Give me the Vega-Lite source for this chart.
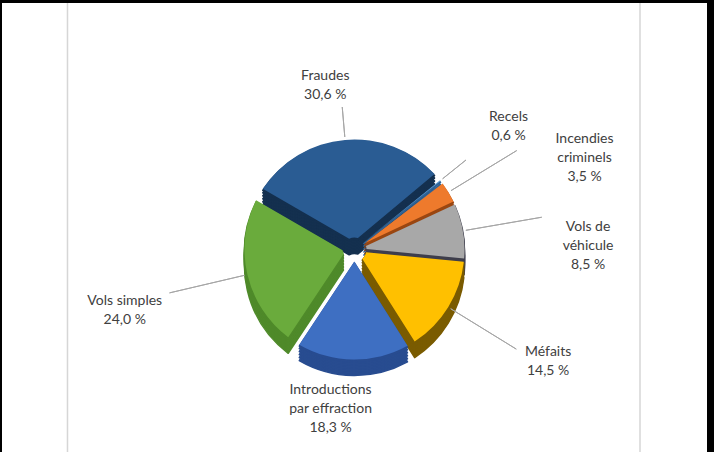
{
  "$schema": "https://vega.github.io/schema/vega-lite/v6.json",
  "width": 705,
  "height": 449,
  "autosize": "none",
  "padding": {"left": 2, "top": 3, "right": 7, "bottom": 0},
  "background": "#000000",
  "view": {"fill": "#ffffff", "stroke": null},
  "config": {
    "view": {"stroke": null, "fill": "#ffffff"},
    "locale": {"number": {"decimal": ",", "thousands": " ", "grouping": [3], "currency": ["", " €"], "percent": " %"}},
    "text": {"font": "Lato", "fontSize": 14, "color": "#404040", "lineHeight": 19, "lineBreak": "\n", "align": "center"},
    "arc": {"strokeJoin": "round"}
  },
  "datasets": {
    "crimes": [
      {"ordre": 1, "nom": "Fraudes", "part": 0.306},
      {"ordre": 2, "nom": "Recels", "part": 0.006},
      {"ordre": 3, "nom": "Incendies\ncriminels", "part": 0.035},
      {"ordre": 4, "nom": "Vols de\nvéhicule", "part": 0.085},
      {"ordre": 5, "nom": "Méfaits", "part": 0.145},
      {"ordre": 6, "nom": "Introductions\npar effraction", "part": 0.183},
      {"ordre": 7, "nom": "Vols simples", "part": 0.240}
    ]
  },
  "layer": [
    {
      "data": {"values": [{"bord": "gauche"}, {"bord": "droite"}]},
      "mark": {"type": "rule", "color": "#d6d6d6", "strokeWidth": 1.5},
      "encoding": {
        "x": {"field": "bord", "type": "nominal", "sort": ["gauche", "droite"], "scale": {"type": "point", "padding": 0.1157, "align": 0.4943}, "axis": null}
      }
    },
    {
      "data": {"name": "crimes"},
      "encoding": {
        "theta": {"field": "part", "type": "quantitative", "stack": true, "scale": {"range": [-1.0472, 5.236]}},
        "order": {"field": "ordre", "type": "quantitative"}
      },
      "layer": [
        {"mark": {"type": "arc", "radius": 110, "radius2": 12, "padAngle": 0.12, "yOffset": 38, "strokeWidth": 1.5},
         "encoding": {"fill": {"field": "ordre", "type": "nominal", "scale": {"domain": [1,2,3,4,5,6,7], "range": ["#14304f", "#2f6396", "#9a4712", "#3e3e4c", "#7a5b00", "#284c90", "#4f8a2a"]}, "legend": null},
                      "stroke": {"field": "ordre", "type": "nominal", "scale": {"domain": [1,2,3,4,5,6,7], "range": ["#14304f", "#2f6396", "#9a4712", "#3e3e4c", "#7a5b00", "#284c90", "#4f8a2a"]}, "legend": null},
                      "opacity": {"condition": {"test": "datum.ordre == 1 || datum.ordre >= 6", "value": 1}, "value": 0}}},
        {"mark": {"type": "arc", "radius": 110, "radius2": 12, "padAngle": 0.03, "yOffset": 38, "strokeWidth": 1.5},
         "encoding": {"fill": {"field": "ordre", "type": "nominal", "legend": null},
                      "stroke": {"field": "ordre", "type": "nominal", "legend": null},
                      "opacity": {"condition": {"test": "datum.ordre > 1 && datum.ordre < 6", "value": 1}, "value": 0}}},
        {"mark": {"type": "arc", "radius": 110, "radius2": 12, "padAngle": 0.12, "yOffset": 35, "strokeWidth": 1.5},
         "encoding": {"fill": {"field": "ordre", "type": "nominal", "legend": null},
                      "stroke": {"field": "ordre", "type": "nominal", "legend": null},
                      "opacity": {"condition": {"test": "datum.ordre == 1 || datum.ordre >= 6", "value": 1}, "value": 0}}},
        {"mark": {"type": "arc", "radius": 110, "radius2": 12, "padAngle": 0.03, "yOffset": 35, "strokeWidth": 1.5},
         "encoding": {"fill": {"field": "ordre", "type": "nominal", "legend": null},
                      "stroke": {"field": "ordre", "type": "nominal", "legend": null},
                      "opacity": {"condition": {"test": "datum.ordre > 1 && datum.ordre < 6", "value": 1}, "value": 0}}},
        {"mark": {"type": "arc", "radius": 110, "radius2": 12, "padAngle": 0.12, "yOffset": 32, "strokeWidth": 1.5},
         "encoding": {"fill": {"field": "ordre", "type": "nominal", "legend": null},
                      "stroke": {"field": "ordre", "type": "nominal", "legend": null},
                      "opacity": {"condition": {"test": "datum.ordre == 1 || datum.ordre >= 6", "value": 1}, "value": 0}}},
        {"mark": {"type": "arc", "radius": 110, "radius2": 12, "padAngle": 0.03, "yOffset": 32, "strokeWidth": 1.5},
         "encoding": {"fill": {"field": "ordre", "type": "nominal", "legend": null},
                      "stroke": {"field": "ordre", "type": "nominal", "legend": null},
                      "opacity": {"condition": {"test": "datum.ordre > 1 && datum.ordre < 6", "value": 1}, "value": 0}}},
        {"mark": {"type": "arc", "radius": 110, "radius2": 12, "padAngle": 0.12, "yOffset": 29, "strokeWidth": 1.5},
         "encoding": {"fill": {"field": "ordre", "type": "nominal", "legend": null},
                      "stroke": {"field": "ordre", "type": "nominal", "legend": null},
                      "opacity": {"condition": {"test": "datum.ordre == 1 || datum.ordre >= 6", "value": 1}, "value": 0}}},
        {"mark": {"type": "arc", "radius": 110, "radius2": 12, "padAngle": 0.03, "yOffset": 29, "strokeWidth": 1.5},
         "encoding": {"fill": {"field": "ordre", "type": "nominal", "legend": null},
                      "stroke": {"field": "ordre", "type": "nominal", "legend": null},
                      "opacity": {"condition": {"test": "datum.ordre > 1 && datum.ordre < 6", "value": 1}, "value": 0}}},
        {"mark": {"type": "arc", "radius": 110, "radius2": 12, "padAngle": 0.12, "yOffset": 26, "strokeWidth": 1.5},
         "encoding": {"fill": {"field": "ordre", "type": "nominal", "legend": null},
                      "stroke": {"field": "ordre", "type": "nominal", "legend": null},
                      "opacity": {"condition": {"test": "datum.ordre == 1 || datum.ordre >= 6", "value": 1}, "value": 0}}},
        {"mark": {"type": "arc", "radius": 110, "radius2": 12, "padAngle": 0.03, "yOffset": 26, "strokeWidth": 1.5},
         "encoding": {"fill": {"field": "ordre", "type": "nominal", "legend": null},
                      "stroke": {"field": "ordre", "type": "nominal", "legend": null},
                      "opacity": {"condition": {"test": "datum.ordre > 1 && datum.ordre < 6", "value": 1}, "value": 0}}},
        {"mark": {"type": "arc", "radius": 110, "radius2": 12, "padAngle": 0.12, "yOffset": 23.5, "strokeWidth": 1.5},
         "encoding": {"fill": {"field": "ordre", "type": "nominal", "legend": null},
                      "stroke": {"field": "ordre", "type": "nominal", "legend": null},
                      "opacity": {"condition": {"test": "datum.ordre == 1 || datum.ordre >= 6", "value": 1}, "value": 0}}},
        {"mark": {"type": "arc", "radius": 110, "radius2": 12, "padAngle": 0.03, "yOffset": 23.5, "strokeWidth": 1.5},
         "encoding": {"fill": {"field": "ordre", "type": "nominal", "legend": null},
                      "stroke": {"field": "ordre", "type": "nominal", "legend": null},
                      "opacity": {"condition": {"test": "datum.ordre > 1 && datum.ordre < 6", "value": 1}, "value": 0}}},
        {"mark": {"type": "arc", "radius": 110, "radius2": 12, "padAngle": 0.12, "yOffset": 22},
         "encoding": {"color": {"field": "ordre", "type": "nominal", "scale": {"domain": [1,2,3,4,5,6,7], "range": ["#2a5c93", "#5b9bd5", "#ee7a2c", "#a8a8a8", "#ffc000", "#3e6fc2", "#6aab3c"]}, "legend": null},
                      "opacity": {"condition": {"test": "datum.ordre == 1 || datum.ordre >= 6", "value": 1}, "value": 0}}},
        {"mark": {"type": "arc", "radius": 110, "radius2": 12, "padAngle": 0.03, "yOffset": 22},
         "encoding": {"color": {"field": "ordre", "type": "nominal", "legend": null},
                      "opacity": {"condition": {"test": "datum.ordre > 1 && datum.ordre < 6", "value": 1}, "value": 0}}},
        {"mark": {"type": "arc", "radius": 143, "radius2": 113, "padAngle": 3.1416, "filled": false, "stroke": "#a6a6a6", "strokeWidth": 1, "yOffset": 22},
         "encoding": {"strokeOpacity": {"condition": {"test": "datum.ordre <= 2", "value": 1}, "value": 0}}},
        {"mark": {"type": "arc", "radius": 190, "radius2": 113, "padAngle": 3.1416, "filled": false, "stroke": "#a6a6a6", "strokeWidth": 1, "yOffset": 22},
         "encoding": {"strokeOpacity": {"condition": {"test": "datum.ordre >= 3 && datum.ordre != 6", "value": 1}, "value": 0}}},

        {"mark": {"type": "text", "radius": 166, "dx": -15, "dy": 21, "baseline": "bottom"},
         "encoding": {"text": {"field": "nom", "type": "nominal", "condition": {"test": "datum.ordre != 1", "value": ""}}}},
        {"mark": {"type": "text", "radius": 166, "dx": -15, "dy": 26, "baseline": "top"},
         "encoding": {"text": {"field": "part", "type": "quantitative", "format": ".1%", "condition": {"test": "datum.ordre != 1", "value": ""}}}},

        {"mark": {"type": "text", "radius": 195, "dx": 2, "dy": 19, "baseline": "bottom"},
         "encoding": {"text": {"field": "nom", "type": "nominal", "condition": {"test": "datum.ordre != 2", "value": ""}}}},
        {"mark": {"type": "text", "radius": 195, "dx": 2, "dy": 24, "baseline": "top"},
         "encoding": {"text": {"field": "part", "type": "quantitative", "format": ".1%", "condition": {"test": "datum.ordre != 2", "value": ""}}}},

        {"mark": {"type": "text", "radius": 205, "dx": 55, "dy": 25, "baseline": "bottom"},
         "encoding": {"text": {"field": "nom", "type": "nominal", "condition": {"test": "datum.ordre != 3", "value": ""}}}},
        {"mark": {"type": "text", "radius": 205, "dx": 55, "dy": 49, "baseline": "top"},
         "encoding": {"text": {"field": "part", "type": "quantitative", "format": ".1%", "condition": {"test": "datum.ordre != 3", "value": ""}}}},

        {"mark": {"type": "text", "radius": 235, "dx": 2, "dy": 46, "baseline": "bottom"},
         "encoding": {"text": {"field": "nom", "type": "nominal", "condition": {"test": "datum.ordre != 4", "value": ""}}}},
        {"mark": {"type": "text", "radius": 235, "dx": 2, "dy": 70, "baseline": "top"},
         "encoding": {"text": {"field": "part", "type": "quantitative", "format": ".1%", "condition": {"test": "datum.ordre != 4", "value": ""}}}},

        {"mark": {"type": "text", "radius": 225, "dx": 2, "dy": 14, "baseline": "bottom"},
         "encoding": {"text": {"field": "nom", "type": "nominal", "condition": {"test": "datum.ordre != 5", "value": ""}}}},
        {"mark": {"type": "text", "radius": 225, "dx": 2, "dy": 19, "baseline": "top"},
         "encoding": {"text": {"field": "part", "type": "quantitative", "format": ".1%", "condition": {"test": "datum.ordre != 5", "value": ""}}}},

        {"mark": {"type": "text", "radius": 168, "dx": -22, "dy": 2, "baseline": "bottom"},
         "encoding": {"text": {"field": "nom", "type": "nominal", "condition": {"test": "datum.ordre != 6", "value": ""}}}},
        {"mark": {"type": "text", "radius": 168, "dx": -22, "dy": 26, "baseline": "top"},
         "encoding": {"text": {"field": "part", "type": "quantitative", "format": ".1%", "condition": {"test": "datum.ordre != 6", "value": ""}}}},

        {"mark": {"type": "text", "radius": 236, "dx": 0, "dy": 27, "baseline": "bottom"},
         "encoding": {"text": {"field": "nom", "type": "nominal", "condition": {"test": "datum.ordre != 7", "value": ""}}}},
        {"mark": {"type": "text", "radius": 236, "dx": 0, "dy": 32, "baseline": "top"},
         "encoding": {"text": {"field": "part", "type": "quantitative", "format": ".1%", "condition": {"test": "datum.ordre != 7", "value": ""}}}}
      ]
    }
  ]
}
